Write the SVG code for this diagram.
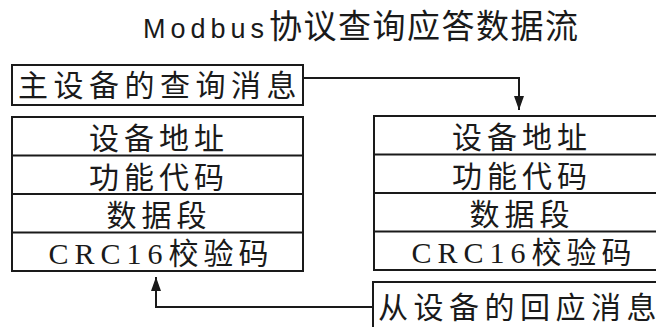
<svg xmlns="http://www.w3.org/2000/svg" width="656" height="327" viewBox="0 0 656 327">
<defs>
<style>
.box{fill:#fff;stroke:#1a1a1a;stroke-width:2}
.sep{stroke:#1a1a1a;stroke-width:2}
.ln{fill:none;stroke:#1a1a1a;stroke-width:2}
.t{font-family:"Liberation Serif","Noto Sans CJK SC",serif;font-size:30px;fill:#1a1a1a;text-anchor:middle;letter-spacing:5px}
.title{font-family:"Liberation Sans","Noto Sans CJK SC",sans-serif;fill:#1a1a1a}
</style>
<marker id="ah" viewBox="0 0 14 10" refX="14" refY="5" markerWidth="14" markerHeight="10" markerUnits="userSpaceOnUse" orient="auto">
<path d="M0,0 L14,5 L0,10 Z" fill="#1a1a1a"/>
</marker>
</defs>
<rect width="656" height="327" fill="#fff"/>
<text class="title" x="143" y="38"><tspan font-size="27" letter-spacing="5">Modbus</tspan><tspan font-size="33" letter-spacing="1.5">协议查询应答数据流</tspan></text>

<g id="query">
<rect class="box" x="12" y="65" width="291" height="40"/>
<text class="t" x="160" y="96" style="letter-spacing:5.5px">主设备的查询消息</text>
</g>

<g id="left-stack">
<rect class="box" x="12" y="117" width="291" height="154"/>
<line class="sep" x1="12" y1="155.5" x2="303" y2="155.5"/>
<line class="sep" x1="12" y1="194" x2="303" y2="194"/>
<line class="sep" x1="12" y1="232.5" x2="303" y2="232.5"/>
<text class="t" x="159" y="149">设备地址</text>
<text class="t" x="159" y="187.5">功能代码</text>
<text class="t" x="159" y="226">数据段</text>
<text class="t" x="161" y="263.5"><tspan style="letter-spacing:6px">CRC16</tspan>校验码</text>
</g>

<g id="right-stack">
<rect class="box" x="374" y="116" width="296" height="154"/>
<line class="sep" x1="374" y1="154.5" x2="670" y2="154.5"/>
<line class="sep" x1="374" y1="193" x2="670" y2="193"/>
<line class="sep" x1="374" y1="231.5" x2="670" y2="231.5"/>
<text class="t" x="522" y="148">设备地址</text>
<text class="t" x="522" y="186.5">功能代码</text>
<text class="t" x="522" y="225">数据段</text>
<text class="t" x="524" y="262.5"><tspan style="letter-spacing:6px">CRC16</tspan>校验码</text>
</g>

<g id="response">
<rect class="box" x="373" y="282" width="300" height="60"/>
<text class="t" x="520" y="318" style="letter-spacing:5.5px">从设备的回应消息</text>
</g>

<g id="connectors">
<path class="ln" d="M303,78 H519 V110" marker-end="url(#ah)"/>
<path class="ln" d="M373,307 H156 V277" marker-end="url(#ah)"/>
</g>
</svg>
